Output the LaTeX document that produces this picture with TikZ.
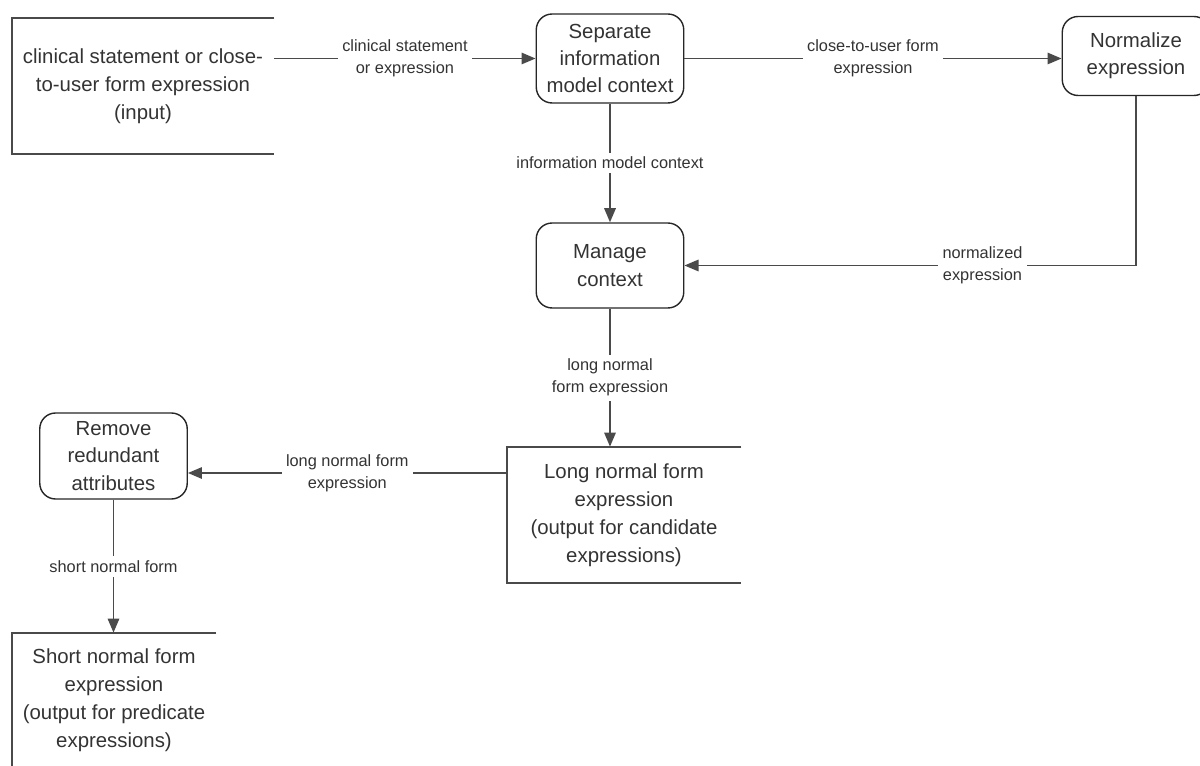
\documentclass[tikz,border=0pt]{standalone}
\usepackage{fontspec}
\setmainfont{Liberation Sans}
\usetikzlibrary{arrows.meta,positioning}
\definecolor{linegray}{HTML}{4A4A4A}
\definecolor{textgray}{HTML}{333333}

\begin{document}
\begin{tikzpicture}[x=0.02cm, y=-0.02cm,
  proc/.style={draw=black!85, line width=0.8pt, rounded corners=9pt, minimum width=2.95cm, align=center, font=\fontsize{11.6}{15.6}\selectfont, text=textgray, inner sep=1pt},
  store/.style={align=center, font=\fontsize{11.6}{16}\selectfont, text=textgray, inner sep=0pt},
  storeline/.style={draw=linegray, line width=1pt},
  arr/.style={-{Triangle[length=8pt,width=6.5pt]}, line width=1pt, draw=linegray},
  lbl/.style={fill=white, font=\fontsize{9.3}{12.6}\selectfont, text=textgray, align=center, inner sep=2.5pt}
]
  \useasboundingbox (0,0) rectangle (1200,766);

  \node[store, minimum width=5.24cm, minimum height=2.72cm] (input) at (143,86) {clinical statement or close-\\to-user form expression\\(input)};
  \node[proc, minimum height=1.78cm] (sep) at (610,58.5) {Separate\\information\\model context};
  \node[proc, minimum height=1.58cm] (norm) at (1136,56) {Normalize\\expression};
  \node[proc, minimum height=1.7cm] (manage) at (610,265.5) {Manage\\context};
  \node[store, minimum width=4.68cm, minimum height=2.72cm] (long) at (624,515) {Long normal form\\expression\\(output for candidate\\expressions)};
  \node[proc, minimum height=1.72cm] (remove) at (113.5,456) {Remove\\redundant\\attributes};
  \node[store, minimum width=4.08cm, minimum height=2.68cm] (short) at (114,700) {Short normal form\\expression\\(output for predicate\\expressions)};

  \draw[storeline] (input.north east) -- (input.north west) -- (input.south west) -- (input.south east);
  \draw[storeline] (long.north east) -- (long.north west) -- (long.south west) -- (long.south east);
  \draw[storeline] (short.north east) -- (short.north west) -- (short.south west);

  \coordinate (lnout) at ([yshift=0.84cm]long.west);

  \draw[arr] (input.east |- sep.west) -- node[lbl] {clinical statement\\or expression} (sep.west);
  \draw[arr] (sep.east) -- node[lbl] {close-to-user form\\expression} (sep.east -| norm.west);
  \draw[arr] (sep) -- node[lbl] {information model context} (manage);
  \draw[arr] (norm.south) |- node[lbl, pos=0.67] {normalized\\expression} (manage.east);
  \draw[arr] (manage.south) -- node[lbl] {long normal\\form expression} (manage.south |- long.north);
  \draw[arr] (lnout) -- node[lbl] {long normal form\\expression} (lnout -| remove.east);
  \draw[arr] (remove.south) -- node[lbl] {short normal form} (remove.south |- short.north);
\end{tikzpicture}
\end{document}
